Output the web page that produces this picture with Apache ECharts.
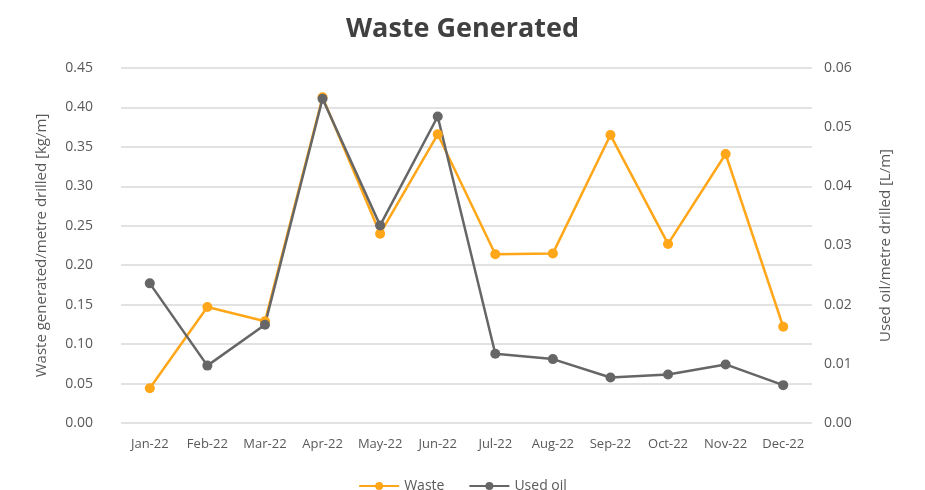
<!DOCTYPE html>
<html>
<head>
	<meta charset="utf-8">
	<title>Waste Generated</title>
	<script src="https://cdn.jsdelivr.net/npm/echarts@6/dist/echarts.min.js"></script>
	<style>
		html, body { margin: 0; padding: 0; background: #fff; }
		#main { width: 925px; height: 490px; }
	</style>
</head>
<body>
	<div id="main"></div>
	<script>
		// data
		var months = ['Jan-22', 'Feb-22', 'Mar-22', 'Apr-22', 'May-22', 'Jun-22', 'Jul-22', 'Aug-22', 'Sep-22', 'Oct-22', 'Nov-22', 'Dec-22'];
		var waste = [0.044, 0.147, 0.129, 0.413, 0.240, 0.366, 0.214, 0.215, 0.365, 0.227, 0.341, 0.122];
		var usedOil = [0.0236, 0.0097, 0.0166, 0.0548, 0.0334, 0.0518, 0.0117, 0.0108, 0.0077, 0.0082, 0.0099, 0.0064];

		var font = '"Open Sans", "Liberation Sans", sans-serif';
		var txt = '#595959';

		var myChart = echarts.init(document.getElementById('main'));
		var option = {
			animation: false,
			title: {
				text: 'Waste Generated',
				left: 'center',
				top: 11,
				textStyle: { fontFamily: font, fontSize: 27, fontWeight: 'bold', color: '#404040' }
			},
			legend: {
				top: 474,
				left: 'center',
				itemWidth: 40,
				itemHeight: 10,
				itemGap: 24,
				textStyle: { fontFamily: font, fontSize: 14, color: txt },
				data: ['Waste', 'Used oil']
			},
			grid: { left: 121, right: 113, top: 68, bottom: 67 },
			xAxis: {
				type: 'category',
				data: months,
				axisLine: { show: false },
				axisTick: { show: false },
				axisLabel: { fontFamily: font, fontSize: 13, color: txt, margin: 15, interval: 0 }
			},
			yAxis: [{
				type: 'value',
				min: 0, max: 0.45, interval: 0.05,
				name: 'Waste generated/metre drilled [kg/m]',
				nameLocation: 'middle',
				nameGap: 72,
				nameTextStyle: { fontFamily: font, fontSize: 15, color: txt },
				axisLabel: { fontFamily: font, fontSize: 14, color: txt, margin: 28, formatter: function (v) { return v.toFixed(2); } },
				splitLine: { lineStyle: { color: '#d9d9d9', width: 1.5 } },
				axisLine: { show: false }, axisTick: { show: false }
			}, {
				type: 'value',
				min: 0, max: 0.06, interval: 0.01,
				name: 'Used oil/metre drilled [L/m]',
				nameLocation: 'middle',
				nameGap: 66,
				nameRotate: 90,
				nameTextStyle: { fontFamily: font, fontSize: 15, color: txt },
				axisLabel: { fontFamily: font, fontSize: 14, color: txt, margin: 12, formatter: function (v) { return v.toFixed(2); } },
				splitLine: { show: false },
				axisLine: { show: false }, axisTick: { show: false }
			}],
			series: [{
				name: 'Waste',
				type: 'line',
				data: waste,
				symbol: 'circle',
				symbolSize: 10,
				color: '#FFA619',
				lineStyle: { width: 2.5 }
			}, {
				name: 'Used oil',
				type: 'line',
				yAxisIndex: 1,
				data: usedOil,
				symbol: 'circle',
				symbolSize: 10,
				color: '#666666',
				lineStyle: { width: 2.5 }
			}]
		};
		myChart.setOption(option);
	</script>
</body>
</html>
